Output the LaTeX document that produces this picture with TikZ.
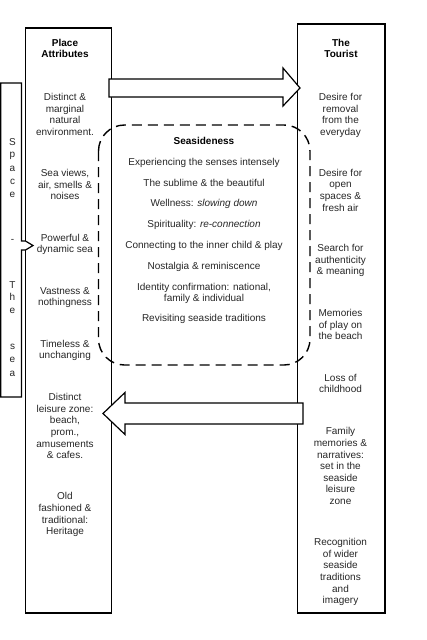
\documentclass[tikz,border=0pt]{standalone}
\usepackage{fontspec}
\setmainfont{Liberation Sans}
\begin{document}
\begin{tikzpicture}[x=1pt,y=-1pt,
  colbox/.style={draw=black, line width=1.2pt},
  blockarrow/.style={draw=black, line width=1.2pt, fill=white, line join=miter},
  dashbox/.style={draw=black, line width=1.4pt, dash pattern=on 10pt off 6pt, rounded corners=26pt},
  txt/.style={font=\fontsize{10}{11.6}\selectfont, align=center, inner sep=0pt, anchor=north, yshift=8.12pt, text=black!85},
  hd/.style={txt, font=\fontsize{10}{11.6}\selectfont\bfseries, text=black},
  letter/.style={font=\fontsize{10}{11.6}\selectfont, inner sep=0pt, anchor=base, text=black!85}
]
\useasboundingbox (0,0) rectangle (426,640);

% column boxes
\draw[colbox] (25.5,28) rectangle (111.5,613);
\draw[colbox] (297.5,24) rectangle (385,613);
\coordinate (placeE) at (111.5,88);
\coordinate (touristW) at (297.5,88);

% dashed Seasideness box
\draw[dashbox] (98.5,125) rectangle (310,365);

% left "Space - The sea" block arrow
\draw[blockarrow] (0.7,83) -- (21.5,83) -- (21.5,241) -- (25.5,241) -- (33,245.5)
  -- (25.5,250) -- (21.5,250) -- (21.5,397) -- (0.7,397) -- cycle;

% top arrow (place -> tourist)
\draw[blockarrow] (109,79) -- (283,79) -- (283,68) -- (300,88) -- (283,106)
  -- (283,97) -- (109,97) -- cycle;

% bottom arrow (tourist -> place)
\draw[blockarrow] (303,403) -- (125,403) -- (125,392.5) -- (103,413.5) -- (125,434.5)
  -- (125,424) -- (303,424) -- cycle;

% vertical letters
\foreach \c/\yy [count=\i] in {S/145.3, p/157.5, a/171.5, c/184.5, e/197.6, -/242.8, T/288.6, h/300.6, e/313.6, s/349.6, e/362.6, a/376.6}
  \node[letter] (v\i) at (12.5,\yy) {\c};

% left column
\node[hd] (pa) at (65,46) {\strut Place\\Attributes};
\node[txt] (l1) at (65,100.5) {\strut Distinct \&\\marginal\\natural\\environment.};
\node[txt] (l2) at (65,176.5) {\strut Sea views,\\air, smells \&\\noises};
\node[txt] (l3) at (65,241) {\strut Powerful \&\\dynamic sea};
\node[txt] (l4) at (65,293.8) {\strut Vastness \&\\nothingness};
\node[txt] (l5) at (65,347) {\strut Timeless \&\\unchanging};
\node[txt] (l6) at (65,400.5) {\strut Distinct\\leisure zone:\\beach,\\prom.,\\amusements\\\& cafes.};
\node[txt] (l7) at (65,499.7) {\strut Old\\fashioned \&\\traditional:\\Heritage};

% right column
\node[hd] (tt) at (341,46) {\strut The\\Tourist};
\node[txt] (r1) at (340.5,100.4) {\strut Desire for\\removal\\from the\\everyday};
\node[txt] (r2) at (340.5,176) {\strut Desire for\\open\\spaces \&\\fresh air};
\node[txt] (r3) at (340.5,251.4) {\strut Search for\\authenticity\\\& meaning};
\node[txt] (r4) at (340.5,316.4) {\strut Memories\\of play on\\the beach};
\node[txt] (r5) at (340.5,381) {\strut Loss of\\childhood};
\node[txt] (r6) at (340.5,434.7) {\strut Family\\memories \&\\narratives:\\set in the\\seaside\\leisure\\zone};
\node[txt] (r7) at (340.5,545.4) {\strut Recognition\\of wider\\seaside\\traditions\\and\\imagery};

% middle
\node[hd] (s0) at (204,144.5) {\strut Seasideness};
\node[txt] (s1) at (204,165.5) {\strut Experiencing the senses intensely};
\node[txt] (s2) at (204,186) {\strut The sublime \& the beautiful};
\node[txt] (s3) at (204,206) {\strut Wellness: \textit{slowing down}};
\node[txt] (s4) at (204,227) {\strut Spirituality: \textit{re-connection}};
\node[txt] (s5) at (204,248) {\strut Connecting to the inner child \& play};
\node[txt] (s6) at (204,269) {\strut Nostalgia \& reminiscence};
\node[txt] (s7) at (204,290) {\strut Identity confirmation: national,\\family \& individual};
\node[txt] (s8) at (204,321.5) {\strut Revisiting seaside traditions};
\end{tikzpicture}
\end{document}
